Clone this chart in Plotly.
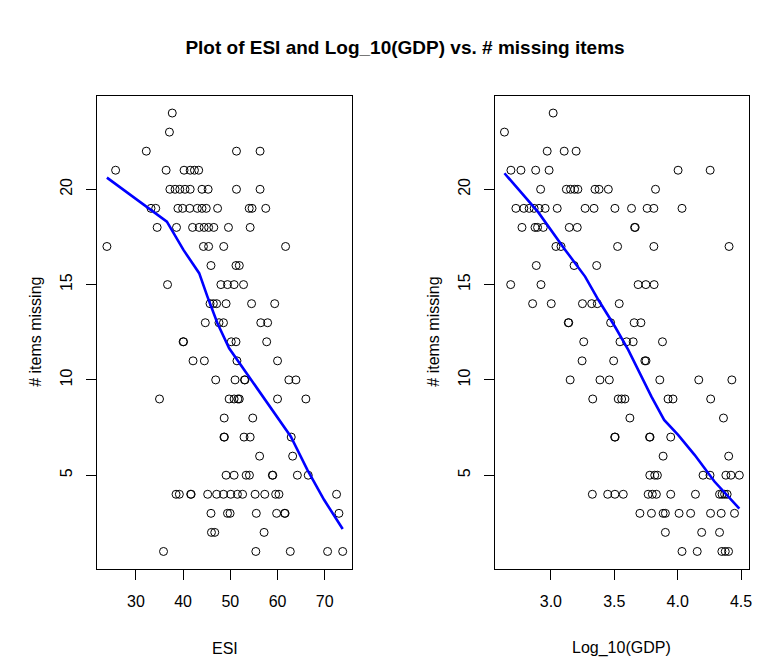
import plotly.graph_objects as go

# ---- data: ESI score vs number of missing items ----
esi_values = [
    37.7,
    37.1,
    32.2, 51.3, 56.3,
    25.7, 36.4, 40.2, 41.5, 42.4, 43.3,
    37.2, 38.3, 39.3, 40.4, 41.5, 44.0, 45.3, 51.3, 56.3,
    33.2, 34.2, 38.9, 39.9, 41.4, 43.0, 44.0, 44.9, 47.3, 54.0, 54.6, 57.5,
    34.5, 38.6, 42.0, 43.4, 44.45, 45.4, 46.5, 49.6, 54.2,
    23.86, 44.3, 45.4, 48.6, 61.7,
    45.9, 51.2, 51.9,
    36.7, 48.0, 49.4, 50.8, 52.8,
    45.7, 46.4, 47.1, 49.1, 54.5, 59.4,
    44.7, 47.6, 48.55, 56.45, 57.9,
    40.0, 40.1, 50.2, 51.2, 57.7,
    42.1, 44.5, 51.4, 60.0,
    46.9, 51.0, 53.0, 53.1, 62.4, 63.9,
    35.0, 49.75, 50.8, 51.6, 51.9, 60.0, 66.0,
    48.7, 54.75,
    48.65, 48.75, 52.9, 54.2, 62.9,
    56.2, 63.2,
    49.1, 50.8, 53.35, 54.05, 58.9, 59.0, 64.2, 66.5,
    38.5, 39.2, 41.6, 41.7, 45.2, 47.1, 48.55, 50.1, 51.5, 52.6, 55.25, 57.3, 59.6, 60.3, 72.5,
    45.9, 49.4, 49.95, 55.5, 59.8, 61.5, 61.6, 73.0,
    46.0, 46.7, 57.15,
    35.85, 55.4, 62.7, 70.6, 73.8,
]
esi_missing = (
    [24] * 1 + [23] * 1 + [22] * 3 + [21] * 6 + [20] * 9 + [19] * 12 + [18] * 9
    + [17] * 5 + [16] * 3 + [15] * 5 + [14] * 6 + [13] * 5 + [12] * 5 + [11] * 4
    + [10] * 6 + [9] * 7 + [8] * 2 + [7] * 5 + [6] * 2 + [5] * 8 + [4] * 15
    + [3] * 8 + [2] * 3 + [1] * 5
)

# ---- data: log10(GDP) vs number of missing items ----
gdp_values = [
    3.018,
    2.634,
    2.971, 3.105, 3.199,
    2.685, 2.764, 2.880, 2.986, 4.003, 4.256,
    2.919, 3.122, 3.155, 3.187, 3.213, 3.348, 3.380, 3.453, 3.825,
    2.724, 2.787, 2.829, 2.868, 2.907, 2.955, 3.050, 3.270, 3.340, 3.505, 3.636, 3.759, 3.812, 4.034,
    2.772, 2.875, 2.895, 2.940, 3.145, 3.208, 3.660, 3.665,
    3.040, 3.080, 3.526, 3.812, 4.405,
    2.885, 3.183, 3.361,
    2.683, 2.922, 3.688, 3.749, 3.814,
    2.856, 3.003, 3.249, 3.322, 3.366, 3.539,
    3.137, 3.141, 3.471, 3.657, 3.710,
    3.259, 3.545, 3.597, 3.649, 3.880,
    3.246, 3.495, 3.741, 3.750,
    3.152, 3.387, 3.461, 3.859, 4.166, 4.427,
    3.330, 3.531, 3.558, 3.584, 3.924, 3.963, 4.260,
    3.623, 4.361,
    3.503, 3.507, 3.778, 3.782, 3.945,
    3.885, 4.402,
    3.780, 3.819, 3.840, 4.200, 4.255, 4.380, 4.420, 4.486,
    3.327, 3.448, 3.505, 3.571, 3.767, 3.800, 3.832, 3.945, 4.140, 4.330, 4.350, 4.370, 4.390,
    3.702, 3.793, 3.885, 3.903, 4.011, 4.102, 4.259, 4.343, 4.448,
    3.903, 4.189, 4.330,
    4.034, 4.154, 4.348, 4.375, 4.401,
]
gdp_missing = (
    [24] * 1 + [23] * 1 + [22] * 3 + [21] * 6 + [20] * 9 + [19] * 14 + [18] * 8
    + [17] * 5 + [16] * 3 + [15] * 5 + [14] * 6 + [13] * 5 + [12] * 5 + [11] * 4
    + [10] * 6 + [9] * 7 + [8] * 2 + [7] * 5 + [6] * 2 + [5] * 8 + [4] * 13
    + [3] * 9 + [2] * 3 + [1] * 5
)

# ---- lowess smooth curves ----
esi_smooth_x = [23.86, 36.56, 40.07, 43.40, 45.15, 47.27, 49.75, 52.22, 54.34, 56.79,
                60.33, 62.80, 66.32, 69.85, 73.80]
esi_smooth_y = [20.61, 18.30, 16.82, 15.60, 14.37, 12.97, 11.66, 10.79, 10.00, 9.12,
                7.90, 7.03, 5.28, 3.71, 2.18]
gdp_smooth_x = [2.634, 2.900, 3.113, 3.270, 3.375, 3.505, 3.610, 3.715, 3.793, 3.893,
                4.003, 4.133, 4.290, 4.486]
gdp_smooth_y = [20.84, 18.80, 16.82, 15.42, 14.19, 12.80, 11.57, 10.17, 9.12, 7.90,
                7.12, 6.07, 4.67, 3.25]

# ---- axis ticks ----
esi_ticks = [30, 40, 50, 60, 70]
gdp_ticks = [3.0, 3.5, 4.0, 4.5]
gdp_ticktext = ["3.0", "3.5", "4.0", "4.5"]
missing_ticks = [5, 10, 15, 20]


def padded_range(vals, frac=0.04):
    lo, hi = min(vals), max(vals)
    span = hi - lo
    return [lo - frac * span, hi + frac * span]


W, H = 757, 657
FONT = "Liberation Sans, Arial, Helvetica, sans-serif"

fig = go.Figure()

point_style = dict(mode="markers", hoverinfo="skip",
                   marker=dict(symbol="circle-open", size=8, color="black",
                               line=dict(width=1, color="black")))
line_style = dict(mode="lines", hoverinfo="skip",
                  line=dict(color="#0000FF", width=2.6))

fig.add_trace(go.Scatter(x=esi_values, y=esi_missing, xaxis="x", yaxis="y", **point_style))
fig.add_trace(go.Scatter(x=esi_smooth_x, y=esi_smooth_y, xaxis="x", yaxis="y", **line_style))
fig.add_trace(go.Scatter(x=gdp_values, y=gdp_missing, xaxis="x2", yaxis="y2", **point_style))
fig.add_trace(go.Scatter(x=gdp_smooth_x, y=gdp_smooth_y, xaxis="x2", yaxis="y2", **line_style))

y_dom = [1 - 569 / H, 1 - 95.5 / H]
axis_common = dict(showgrid=False, zeroline=False, showline=True, mirror=True,
                   linecolor="black", linewidth=1, ticks="outside", ticklen=10,
                   tickwidth=1, tickcolor="black",
                   tickfont=dict(family=FONT, size=16, color="black"))

fig.update_layout(
    width=W, height=H,
    margin=dict(l=0, r=0, t=0, b=0),
    paper_bgcolor="white", plot_bgcolor="white",
    showlegend=False,
    font=dict(family=FONT, size=16, color="black"),
    xaxis=dict(domain=[98 / W, 354 / W], range=padded_range(esi_values),
               tickvals=esi_ticks, anchor="y", ticklabelstandoff=8, **axis_common),
    yaxis=dict(domain=y_dom, range=padded_range(esi_missing),
               tickvals=missing_ticks, anchor="x", tickangle=-90,
               ticklabelstandoff=8, **axis_common),
    xaxis2=dict(domain=[497.7 / W, 752.7 / W], range=padded_range(gdp_values),
                tickvals=gdp_ticks, ticktext=gdp_ticktext, anchor="y2",
                ticklabelstandoff=8, **axis_common),
    yaxis2=dict(domain=y_dom, range=padded_range(gdp_missing),
                tickvals=missing_ticks, anchor="x2", tickangle=-90,
                ticklabelstandoff=8, **axis_common),
    title=dict(text="<b>Plot of ESI and Log_10(GDP) vs. # missing items</b>",
               x=405 / W, xanchor="center", y=1 - 47 / H, yanchor="middle",
               font=dict(family=FONT, size=19, color="black")),
)

label_font = dict(family=FONT, size=16, color="black")
fig.add_annotation(text="ESI", xref="x domain", x=0.5, yref="paper", y=1 - 648 / H,
                   showarrow=False, xanchor="center", yanchor="middle", font=label_font)
fig.add_annotation(text="Log_10(GDP)", xref="x2 domain", x=0.5, yref="paper", y=1 - 648 / H,
                   showarrow=False, xanchor="center", yanchor="middle", font=label_font)
for xpix in (35, 435):
    fig.add_annotation(text="# items missing", xref="paper", x=xpix / W,
                       yref="paper", y=1 - 332 / H, textangle=-90, showarrow=False,
                       xanchor="center", yanchor="middle", font=label_font)

fig.write_html("out.html")
